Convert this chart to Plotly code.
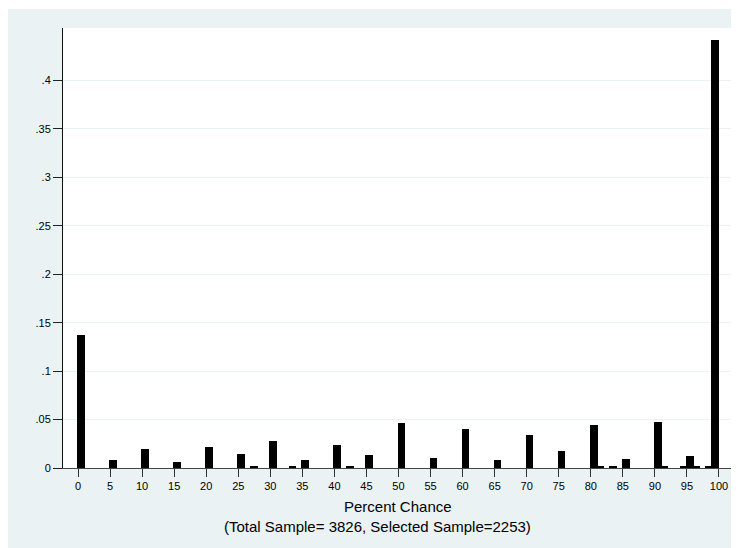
import plotly.graph_objects as go

# Data (percent-chance value -> density)
values = [0, 5, 10, 15, 20, 25, 27, 30, 33, 35, 40, 42, 45, 50, 55, 60, 65, 70,
          75, 80, 81, 83, 85, 90, 91, 94, 95, 96, 98, 100]
density = [0.1378, 0.0087, 0.0193, 0.0059, 0.0221, 0.0142, 0.0018, 0.0276, 0.0018,
           0.0080, 0.0242, 0.0020, 0.0131, 0.0469, 0.0107, 0.0407, 0.0080, 0.0345,
           0.0176, 0.0441, 0.0018, 0.0016, 0.0097, 0.0472, 0.0018, 0.0018, 0.0124,
           0.0018, 0.0018, 0.4418]

x_ticks = list(range(0, 101, 5))
y_tickvals = [0, 0.05, 0.1, 0.15, 0.2, 0.25, 0.3, 0.35, 0.4]
y_ticktext = ["0", ".05", ".1", ".15", ".2", ".25", ".3", ".35", ".4"]

x_title = "Percent Chance"
note = "(Total Sample= 3826, Selected Sample=2253)"

BG = "#EAF2F3"
FONT = "Liberation Sans, Arial, sans-serif"

bar_w = 1.2
offsets = [(-bar_w if v == 100 else -0.15) for v in values]

fig = go.Figure(go.Bar(
    x=values, y=density, width=bar_w, offset=offsets,
    marker=dict(color="black", line=dict(width=0)),
    hoverinfo="x+y",
))

# page body adds an 8px margin, so the figure is placed at (8, 8)
W, H = 731, 540
L, R, T, B = 55, 7, 20, 80
pw, ph = W - L - R, H - T - B

fig.update_layout(
    width=W, height=H,
    margin=dict(l=L, r=R, t=T, b=B, pad=0),
    paper_bgcolor=BG, plot_bgcolor="white",
    showlegend=False, bargap=0,
    font=dict(family=FONT, size=10, color="black"),
    xaxis=dict(range=[-2.34, 102.03], tickvals=x_ticks,
               ticks="outside", ticklen=8, tickcolor="#333", tickwidth=1,
               showgrid=False, zeroline=False, showline=True,
               linecolor="#444", linewidth=1,
               tickfont=dict(size=11, family=FONT)),
    yaxis=dict(range=[0, 0.4542], tickvals=y_tickvals, ticktext=y_ticktext,
               ticks="outside", ticklen=9, tickcolor="#222", tickwidth=1,
               showgrid=True, gridcolor=BG, gridwidth=1,
               zeroline=False, showline=True, linecolor="#111", linewidth=1,
               tickfont=dict(size=11, family=FONT)),
    annotations=[
        dict(text=x_title, xref="paper", yref="paper", x=0.5, y=0,
             yanchor="middle", showarrow=False, yshift=-38,
             font=dict(size=15, family=FONT)),
        dict(text=note, xref="paper", yref="paper", x=0.5 - 20 / pw, y=0,
             yanchor="middle", showarrow=False, yshift=-58,
             font=dict(size=15, family=FONT)),
    ],
    shapes=[
        dict(type="rect", xref="paper", yref="paper",
             x0=-L / pw, x1=(W - L) / pw, y0=1 + (T - 1) / ph, y1=1 + T / ph,
             fillcolor="white", line=dict(width=0), layer="above"),
    ],
)

fig.write_html("out.html")
